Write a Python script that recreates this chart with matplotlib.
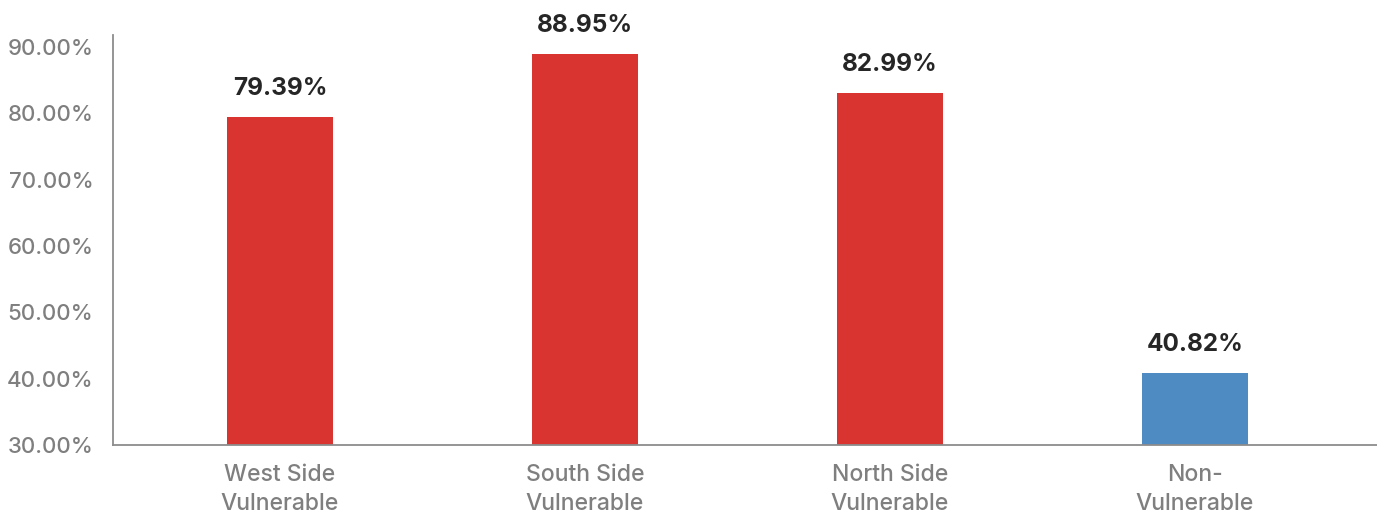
import matplotlib as mpl
import matplotlib.pyplot as plt

mpl.rcParams['font.family'] = ['Inter', 'DejaVu Sans']

categories = ["West Side\nVulnerable", "South Side\nVulnerable",
              "North Side\nVulnerable", "Non-\nVulnerable"]
values = [79.39, 88.95, 82.99, 40.82]
colors = ["#d93430", "#d93430", "#d93430", "#4d8bc2"]

fig = plt.figure(figsize=(13.77, 5.16), dpi=100)
ax = fig.add_axes([0.082, 0.1376, 0.918, 0.7945])

x = range(len(categories))
ax.bar(x, values, width=0.35, color=colors, zorder=2)

for xi, v in zip(x, values):
    ax.text(xi, v + 2.6, f"{v:.2f}%", ha="center", va="bottom",
            fontsize=17.5, fontweight="bold", color="#262626")

ax.set_ylim(30, 91.8)
ax.set_xlim(-0.548, 3.597)
ax.set_yticks(range(30, 91, 10))
ax.set_yticklabels([f"{t:.2f}%" for t in range(30, 91, 10)], fontweight="medium")
ax.set_xticks(list(x))
ax.set_xticklabels(categories, linespacing=1.4, fontweight="medium")

for s in ["top", "right"]:
    ax.spines[s].set_visible(False)
for s in ["left", "bottom"]:
    ax.spines[s].set_color("#8c8c8c")
    ax.spines[s].set_linewidth(1.3)

ax.tick_params(axis="y", length=0, pad=14, labelsize=16, labelcolor="#7f7f7f")
ax.tick_params(axis="x", length=0, pad=14, labelsize=16.5, labelcolor="#7f7f7f")

plt.savefig("out.png", dpi=100)
